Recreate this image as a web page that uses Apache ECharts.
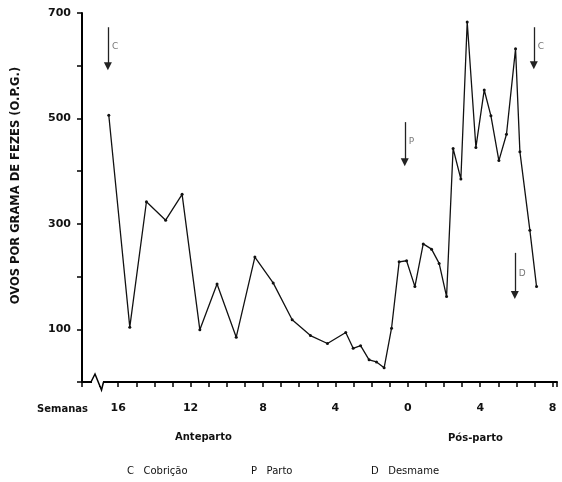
<!DOCTYPE html>
<html>
<head>
<meta charset="utf-8">
<script src="https://cdn.jsdelivr.net/npm/echarts@6/dist/echarts.min.js"></script>
<style>html,body{margin:0;padding:0;background:#fff;}#c{width:562px;height:482px;}</style>
</head>
<body>
<div id="c"></div>
<script>
// Weeks relative to parturition (negative = anteparto)
const weeks = [-16.52,-15.36,-14.44,-13.38,-12.47,-11.49,-10.54,-9.48,-8.45,-7.44,-6.39,-5.38,-4.44,-3.43,-3.02,-2.61,-2.14,-1.73,-1.31,-0.90,-0.48,-0.07,0.39,0.85,1.31,1.73,2.14,2.50,2.93,3.28,3.76,4.22,4.59,5.03,5.45,5.95,6.19,6.74,7.11];
// Eggs per gram of faeces (O.P.G.)
const opg = [506,104,342,307,356,99,186,85,237,188,118,88,73,94,64,69,42,38,27,102,228,230,181,262,252,225,162,443,385,683,445,554,505,420,470,632,437,288,181];
// Event arrows
const arrowWeeks = [-16.57,-0.17,6.96,5.91];
const arrowTop = [673,493,673,245];
const arrowBottom = [599,417,601,165];
const arrowLetters = ['C','P','C','D'];
// Tick labels
const yTickLabels = [100,300,500,700];
const xTickLabels = [-16,-12,-8,-4,0,4,8];

const FONT = 'DejaVu Sans';
const chart = echarts.init(document.getElementById('c'), null, {renderer:'canvas'});
const lineData = weeks.map((w,i)=>[w,opg[i]]);
const arrowLines = arrowWeeks.map((w,i)=>[{coord:[w,arrowTop[i]]},{coord:[w,arrowBottom[i]]}]);
const arrowLabelData = arrowWeeks.map((w,i)=>({value:[w,(arrowTop[i]+arrowBottom[i])/2], name:arrowLetters[i]}));

chart.setOption({
  animation:false,
  backgroundColor:'#fff',
  grid:{left:82,right:5,top:13,bottom:100,containLabel:false},
  title:[
    {text:'Semanas',left:32,top:399,textStyle:{fontFamily:FONT,fontSize:10,fontWeight:'bold',color:'#111'}},
    {text:'Anteparto',left:170,top:427,textStyle:{fontFamily:FONT,fontSize:10,fontWeight:'bold',color:'#111'}},
    {text:'Pós-parto',left:443,top:428,textStyle:{fontFamily:FONT,fontSize:10,fontWeight:'bold',color:'#111'}},
    {text:'C   Cobrição',left:122,top:461,textStyle:{fontFamily:FONT,fontSize:10,fontWeight:'normal',color:'#111'}},
    {text:'P   Parto',left:246,top:461,textStyle:{fontFamily:FONT,fontSize:10,fontWeight:'normal',color:'#111'}},
    {text:'D   Desmame',left:366,top:461,textStyle:{fontFamily:FONT,fontSize:10,fontWeight:'normal',color:'#111'}}
  ],
  xAxis:{
    type:'value',min:-18,max:8.24,interval:1,
    axisLine:{onZero:false,lineStyle:{color:'#000',width:2}},
    axisTick:{show:true,inside:false,length:5,lineStyle:{color:'#000',width:1.5}},
    splitLine:{show:false},
    axisLabel:{margin:21,fontFamily:FONT,fontSize:11,fontWeight:'bold',color:'#111',
      formatter:v=>xTickLabels.indexOf(Math.round(v))>=0 && Math.abs(v-Math.round(v))<1e-6 ? String(Math.abs(Math.round(v))) : ''}
  },
  yAxis:{
    type:'value',min:0,max:700,interval:100,
    name:'OVOS POR GRAMA DE FEZES (O.P.G.)',nameLocation:'middle',nameGap:60,
    nameTextStyle:{fontFamily:FONT,fontSize:11.5,fontWeight:'bold',color:'#111',padding:[0,0,0,24]},
    axisLine:{show:true,onZero:false,lineStyle:{color:'#000',width:2}},
    axisTick:{show:true,inside:false,length:5,lineStyle:{color:'#000',width:1.5}},
    splitLine:{show:false},
    axisLabel:{margin:11,fontFamily:FONT,fontSize:11,fontWeight:'bold',color:'#111',
      formatter:v=>yTickLabels.indexOf(v)>=0?String(v):''}
  },
  graphic:[
    {type:'rect',z:100,shape:{x:92,y:378,width:11,height:8},style:{fill:'#fff'}},
    {type:'polyline',z:101,shape:{points:[[91,382],[95,374],[101.5,390],[103.5,382]]},style:{stroke:'#000',lineWidth:1.5,fill:null}}
  ],
  series:[
    {type:'line',data:lineData,symbol:'circle',symbolSize:3,showSymbol:true,
      lineStyle:{color:'#111',width:1.3},itemStyle:{color:'#111'},z:3},
    {type:'line',data:[],silent:true,
      markLine:{silent:true,symbol:['none','triangle'],symbolSize:8,
        label:{show:false},lineStyle:{color:'#222',width:1.3,type:'solid'},
        emphasis:{disabled:true},
        data:arrowLines}},
    {type:'scatter',data:arrowLabelData,symbolSize:0,silent:true,
      label:{show:true,position:'right',distance:4,formatter:p=>p.name,fontFamily:FONT,fontSize:9,color:'#555'}}
  ]
});
</script>
</body>
</html>
